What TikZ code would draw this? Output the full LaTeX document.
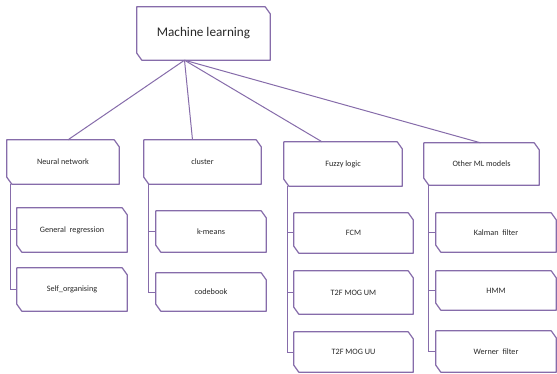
\documentclass[tikz,border=0pt]{standalone}
\usepackage{fontspec}
\setmainfont{Carlito}
\definecolor{lav}{RGB}{134,108,170}
\definecolor{txt}{RGB}{40,40,40}
\tikzset{
  boxline/.style={draw=lav, line width=1.2pt, line join=round},
  conn/.style={draw=lav, line width=1pt},
  boxtext/.style={rectangle, inner sep=0pt, text=txt, font=\fontsize{8.2}{9}\selectfont},
  bigtext/.style={boxtext, font=\fontsize{13.2}{15}\selectfont}
}
% name, x1, y1, x2, y2, style, text
\newcommand\cbox[7]{%
  \node[#6, minimum width={(#4-#2)*1pt}, minimum height={(#5-#3)*1pt}] (#1) at ({(#2+#4)/2},{(#3+#5)/2}) {#7};
  \draw[boxline] (#1.north west) -- ([xshift=-5pt]#1.north east) -- ([yshift=-7pt]#1.north east)
     -- (#1.south east) -- ([xshift=5pt]#1.south west) -- ([yshift=7pt]#1.south west) -- cycle;}
\begin{document}
\begin{tikzpicture}[x=1pt,y=-1pt]
\path[fill=white] (0,0) rectangle (557,374);
\useasboundingbox (0,0) rectangle (557,374);
\cbox{ml}{137}{7}{270}{60}{bigtext}{Machine learning}
\cbox{nn}{7}{140}{119}{184}{boxtext}{Neural network}
\cbox{cl}{144}{140}{261}{184}{boxtext}{cluster}
\cbox{fz}{284}{142}{402}{186}{boxtext}{Fuzzy logic}
\cbox{ot}{424}{143}{539}{185}{boxtext}{Other ML models}
\cbox{gr}{17}{208}{127}{252}{boxtext}{General\ \ regression}
\cbox{so}{17}{268}{127}{311}{boxtext}{Self\_organising}
\cbox{km}{156}{211}{266}{252}{boxtext}{k-means}
\cbox{cb}{156}{273}{266}{311}{boxtext}{codebook}
\cbox{fcm}{294}{213}{413}{253}{boxtext}{FCM}
\cbox{um}{294}{271}{413}{314}{boxtext}{T2F MOG UM}
\cbox{uu}{294}{332}{413}{372}{boxtext}{T2F MOG UU}
\cbox{ka}{436}{213}{556}{252}{boxtext}{Kalman\ \ filter}
\cbox{hmm}{436}{271}{556}{310}{boxtext}{HMM}
\cbox{we}{436}{331}{556}{372}{boxtext}{Werner\ \ filter}
\coordinate (hub) at ([xshift=-19pt]ml.south);
\draw[conn] (hub) -- ([xshift=5pt]nn.north);
\draw[conn] (hub) -- ([xshift=-10pt]cl.north);
\draw[conn] (hub) -- ([xshift=-21pt]fz.north);
\draw[conn] (hub) -- ([xshift=-1pt]ot.north);
\draw[conn] ([xshift=4pt]nn.south west) |- (so.west);
\draw[conn] ([xshift=4pt]nn.south west) |- (gr.west);
\draw[conn] ([xshift=5pt]cl.south west) |- (cb.west);
\draw[conn] ([xshift=5pt]cl.south west) |- (km.west);
\draw[conn] ([xshift=4pt]fz.south west) |- (uu.west);
\draw[conn] ([xshift=4pt]fz.south west) |- (um.west);
\draw[conn] ([xshift=4pt]fz.south west) |- (fcm.west);
\draw[conn] ([xshift=5pt]ot.south west) |- (we.west);
\draw[conn] ([xshift=5pt]ot.south west) |- (hmm.west);
\draw[conn] ([xshift=5pt]ot.south west) |- (ka.west);
\end{tikzpicture}
\end{document}
